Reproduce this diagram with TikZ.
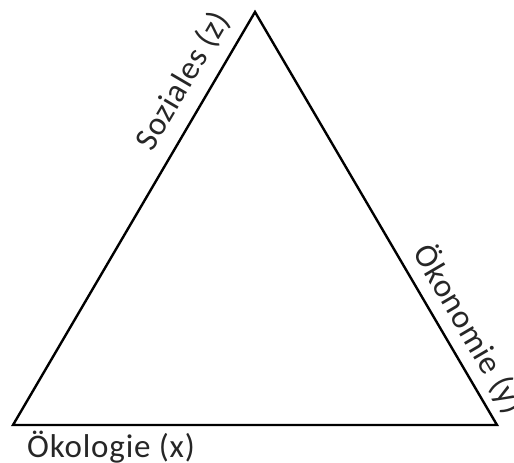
\documentclass[tikz,border=0pt]{standalone}
\usepackage{fontspec}
\setmainfont{Carlito}[LetterSpace=2.5]
\usepackage{tikz}
\tikzset{
	seite/.style={black, line width=2.4pt, line join=miter},
	beschriftung/.style={text=black!85, inner sep=0pt, font=\fontsize{33}{33}\selectfont}
}

\begin{document}
\begin{tikzpicture}[x=1pt, y=1pt]
		\useasboundingbox (0,0) rectangle (514,463);

		\coordinate (oeko) at (13,38);
		\coordinate (oekon) at (497,38);
		\coordinate (sozi) at (255,451);

		\draw[seite] (oeko) -- (oekon) -- (sozi) -- cycle;

		\node[beschriftung, rotate=59.6] (lsozi) at (183,382) {Soziales (z)};
		\node[beschriftung, rotate=-59.6] (loekon) at (469,134) {Ökonomie (y)};
		\node[beschriftung, anchor=base west] (loeko) at (27,5) {Ökologie (x)};
	\end{tikzpicture}
\end{document}
